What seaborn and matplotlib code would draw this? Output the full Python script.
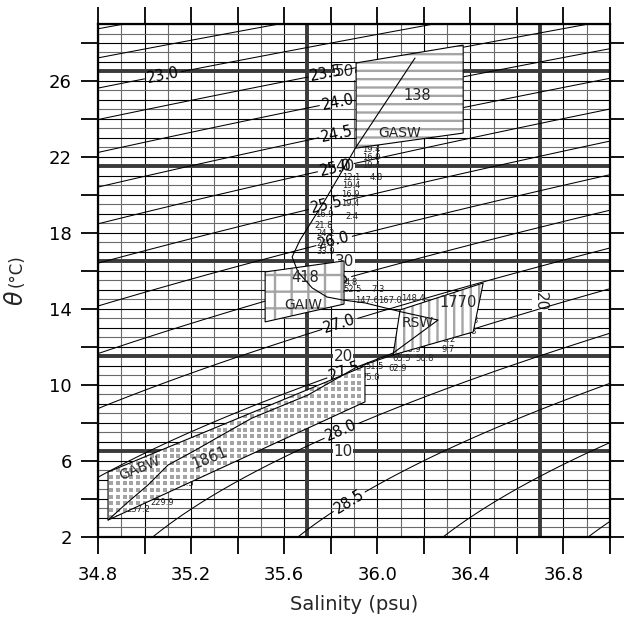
import numpy as np
import pandas as pd
import matplotlib
matplotlib.use("Agg")
import matplotlib.pyplot as plt
import seaborn as sns
from matplotlib.patches import Polygon

sns.set_theme(style="ticks")
plt.rcParams['font.family'] = ['DejaVu Sans']
plt.rcParams['hatch.linewidth'] = 1.7

# ---------------- data ----------------
sigma_levels_plain = [22.0, 22.5, 29.0, 29.5]
label_levels = [23.0, 23.5, 24.0, 24.5, 25.0, 25.5, 26.0, 26.5, 27.0, 27.5, 28.0, 28.5]
label_S = [35.08, 35.78, 35.83, 35.83, 35.82, 35.78, 35.81, 35.81, 35.84, 35.86, 35.85, 35.88]
label_T = [26.2, 26.47, 24.89, 23.05, 21.53, 19.58, 17.79, 15.53, 13.16, 10.68, 7.47, 3.84]

profile_S = [36.162, 35.909, 35.776, 35.668, 35.634, 35.659, 35.720, 35.784, 35.853,
             35.947, 36.106, 36.261, 36.068, 35.913, 35.702, 35.462, 35.333, 35.204,
             35.101, 35.015, 34.929, 34.843]
profile_T = [27.21, 22.53, 19.74, 17.63, 16.74, 15.95, 15.11, 14.63, 14.47,
             14.32, 13.84, 13.42, 11.68, 10.95, 9.47, 8.26, 7.37, 6.47,
             5.79, 4.74, 3.84, 2.89]

gasw_S = [35.909, 36.369, 36.369, 35.909]
gasw_T = [26.95, 27.89, 23.26, 22.47]
gaiw_S = [35.518, 35.857, 35.857, 35.518]
gaiw_T = [15.95, 16.53, 14.26, 13.32]
rsw_S = [36.098, 36.455, 36.412, 36.068]
rsw_T = [13.95, 15.37, 12.79, 11.58]
gabw_S = [34.843, 35.947, 35.947, 34.843]
gabw_T = [5.42, 11.00, 9.11, 2.89]

mass_names = ["GASW", "GAIW", "RSW", "GABW"]
mass_name_S = [36.098, 35.681, 36.175, 34.980]
mass_name_T = [23.26, 14.21, 13.26, 5.63]
mass_vol = ["138", "418", "1770", "1861"]
mass_vol_S = [36.171, 35.690, 36.347, 35.281]
mass_vol_T = [25.26, 15.68, 14.32, 6.16]

num_text = ["19.4", "16.9", "19.4", "4.8", "12.1", "19.4", "16.9", "19.4", "2.4",
            "16.9", "21.8", "24.2", "24.2", "33.9", "4.8", "52.5", "7.3", "147.6",
            "167.0", "148.4", "1.8", "3.8", "3.2", "9.7", "68.9", "65.5", "50.8",
            "51.5", "62.9", "75.0", "229.9", "237.2", "221.4", "198.5"]
num_S = [35.973, 35.973, 35.973, 35.995, 35.890, 35.887, 35.883, 35.883, 35.892,
         35.771, 35.771, 35.776, 35.776, 35.776, 35.887, 35.892, 36.003, 35.955,
         36.055, 36.155, 36.407, 36.399, 36.308, 36.304, 36.149, 36.106, 36.205,
         35.990, 36.089, 35.969, 35.075, 34.972, 35.058, 35.161]
num_T = [22.42, 21.95, 21.53, 20.92, 20.92, 20.52, 20.00, 19.53, 18.89,
         18.95, 18.42, 17.95, 17.47, 17.00, 15.42, 15.00, 15.00, 14.47,
         14.47, 14.53, 13.42, 12.84, 12.37, 11.89, 11.89, 11.42, 11.42,
         10.95, 10.89, 10.42, 3.84, 3.42, 4.42, 4.84]

box_T = [6.5, 11.5, 16.5, 21.5, 26.5]
box_T_labels = ["10", "20", "30", "40", "50"]
box_T_label_S = [35.853, 35.853, 35.861, 35.861, 35.861]
box_S = [35.7, 36.7]
box_S_label = "20"
box_S_label_T = 14.37

xticks = [34.8, 35.0, 35.2, 35.4, 35.6, 35.8, 36.0, 36.2, 36.4, 36.6, 36.8, 37.0]
xticklabels = ["34.8", "", "35.2", "", "35.6", "", "36.0", "", "36.4", "", "36.8", ""]
yticks = [2, 4, 6, 8, 10, 12, 14, 16, 18, 20, 22, 24, 26, 28]
yticklabels = ["2", "", "6", "", "10", "", "14", "", "18", "", "22", "", "26", ""]


def sigma0(S, T):
    rw = (999.842594 + 6.793952e-2 * T - 9.095290e-3 * T**2 + 1.001685e-4 * T**3
          - 1.120083e-6 * T**4 + 6.536332e-9 * T**5)
    A = 0.824493 - 4.0899e-3 * T + 7.6438e-5 * T**2 - 8.2467e-7 * T**3 + 5.3875e-9 * T**4
    B = -5.72466e-3 + 1.0227e-4 * T - 1.6546e-6 * T**2
    C = 4.8314e-4
    return rw + A * S + B * S**1.5 + C * S**2 - 1000.0


# ---------------- figure ----------------
fig = plt.figure(figsize=(6.24, 6.17), dpi=100)
ax = fig.add_axes([0.1571, 0.1297, 0.8205, 0.8314])
ax.set_facecolor("white")
ax.set_xlim(34.8, 37.0)
ax.set_ylim(2, 29)

# thin grid
gS = np.round(np.arange(34.8, 37.0001, 0.1), 2)
gT = np.arange(2.0, 29.0001, 0.5)
for s in gS:
    odd = int(round(s * 10)) % 2 == 1
    ax.axvline(s, color="#6a6a6a" if odd else "black", lw=0.8, zorder=1.0)
for t in gT:
    half = abs(t - round(t)) > 0.1
    ax.axhline(t, color="#6a6a6a" if half else "black", lw=0.8, zorder=1.0)

# thick box lines
for t in box_T:
    ax.axhline(t, color="#3a3a3a", lw=2.8, zorder=1.1)
for s in box_S:
    ax.axvline(s, color="#3a3a3a", lw=2.8, zorder=1.1)
for lab, s, t in zip(box_T_labels, box_T_label_S, box_T):
    ax.text(s, t, lab, fontsize=11, ha="center", va="center", zorder=1.2,
            bbox=dict(facecolor="white", edgecolor="none", pad=0.5))
ax.text(box_S[1], box_S_label_T, box_S_label, fontsize=11, rotation=-90,
        ha="center", va="center", zorder=1.2,
        bbox=dict(facecolor="white", edgecolor="none", pad=0.5))

# isopycnals
Sg = np.linspace(34.8, 37.0, 300)
Tg = np.linspace(2.0, 29.0, 300)
SS, TT = np.meshgrid(Sg, Tg)
SIG = sigma0(SS, TT)
ax.contour(SS, TT, SIG, levels=sigma_levels_plain, colors="black",
           linewidths=0.75, zorder=1.3)
cs = ax.contour(SS, TT, SIG, levels=label_levels, colors="black",
                linewidths=0.75, zorder=1.3)
texts = ax.clabel(cs, manual=list(zip(label_S, label_T)),
                  inline=True, inline_spacing=2, fmt="%.1f", fontsize=10.5)
for t in texts:
    t.set_zorder(1.35)

# small numbers along the profile
for txt, s, t in zip(num_text, num_S, num_T):
    ax.text(s, t, txt, fontsize=6.0, ha="center", va="center", zorder=1.4)

# GABW (dotted, grid visible on top)
gabw_xy = np.column_stack([gabw_S, gabw_T])
gabw_fill = Polygon(gabw_xy, closed=True, facecolor="white", edgecolor="none", zorder=1.45)
ax.add_patch(gabw_fill)
ds, dt = 6.7 / 232.7, 6.7 / 19.0
dS_pts = np.arange(min(gabw_S) + ds / 2, max(gabw_S), ds)
dT_pts = np.arange(min(gabw_T) + dt / 2, max(gabw_T), dt)
DS, DT = np.meshgrid(dS_pts, dT_pts)
dots = ax.scatter(DS.ravel(), DT.ravel(), marker="s", s=5.0, color="#a4a4a4",
                  linewidths=0, zorder=1.46)
dots.set_clip_path(gabw_fill)
ax.add_patch(Polygon(gabw_xy, closed=True, fill=False, edgecolor="black", lw=0.8, zorder=2.1))

# other water masses
for Sx, Tx, hatch in [(gasw_S, gasw_T, "--"), (gaiw_S, gaiw_T, "+"), (rsw_S, rsw_T, "||")]:
    xy = np.column_stack([Sx, Tx])
    ax.add_patch(Polygon(xy, closed=True, facecolor="white", edgecolor="#a5a5a5",
                         hatch=hatch, lw=0, zorder=2.0))
    ax.add_patch(Polygon(xy, closed=True, fill=False, edgecolor="black", lw=0.8, zorder=2.1))

# mean profile
prof = pd.DataFrame({"S": profile_S, "T": profile_T})
sns.lineplot(data=prof, x="S", y="T", sort=False, estimator=None, color="black",
             lw=0.8, ax=ax, zorder=3)

# labels of water masses
for name, s, t in zip(mass_names, mass_name_S, mass_name_T):
    ax.text(s, t, name, fontsize=10, ha="center", va="center", zorder=4,
            rotation=22 if name == "GABW" else 0)
for v, s, t in zip(mass_vol, mass_vol_S, mass_vol_T):
    ax.text(s, t, v, fontsize=10.5, ha="center", va="center", zorder=4,
            rotation=22 if v == "1861" else 0)

# axes styling
ax.set_xticks(xticks)
ax.set_xticklabels(xticklabels)
ax.set_yticks(yticks)
ax.set_yticklabels(yticklabels)
ax.tick_params(axis="both", direction="out", length=12, width=1.3, top=True, right=True,
               labelsize=13, colors="black")
ax.tick_params(axis="x", pad=9)
ax.tick_params(axis="y", pad=7)
for sp in ax.spines.values():
    sp.set_visible(True)
    sp.set_linewidth(1.6)
    sp.set_color("black")
    sp.set_zorder(5)
ax.set_xlabel("Salinity (psu)", fontsize=14, labelpad=8)
ax.set_ylabel("")
fig.text(0.026, 0.517, r"$\theta$", fontsize=17, rotation=90, ha="center", va="center")
fig.text(0.026, 0.562, "(°C)", fontsize=12, rotation=90, ha="center", va="center")

fig.savefig("out.png", dpi=100)
